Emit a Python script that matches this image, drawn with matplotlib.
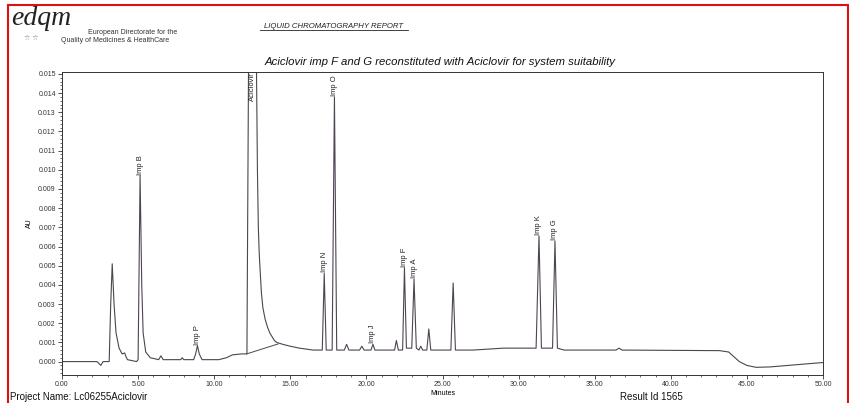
import matplotlib.pyplot as plt
from matplotlib.patches import Rectangle
from matplotlib.ticker import MultipleLocator, FormatStrFormatter

# trace vertices (minutes, AU)
minutes = [0.0, 2.3, 2.55, 2.7, 3.1, 3.2, 3.3, 3.42, 3.55, 3.75, 3.95, 4.12, 4.18, 4.3, 4.9,
           5.0, 5.13, 5.24, 5.33, 5.5, 5.8, 6.35, 6.5, 6.65, 7.8, 7.9, 8.0, 8.65, 8.78, 8.9, 9.02, 9.2,
           10.3, 10.8, 11.2, 11.8, 12.15, 12.5, 12.78, 12.84, 12.9, 12.95, 13.0, 13.1, 13.2, 13.35,
           13.5, 13.65, 13.8, 13.95, 14.1, 14.5, 15.0, 15.6, 16.5, 17.1, 17.23, 17.36, 17.75, 17.9,
           18.05, 18.55, 18.7, 18.85, 19.55, 19.7, 19.85, 20.3, 20.43, 20.56, 21.85, 21.97, 22.1,
           22.38, 22.5, 22.63, 22.98, 23.13, 23.28, 23.45, 23.57, 23.7, 23.97, 24.1, 24.23, 25.55,
           25.7, 25.85, 27.0, 29.0, 30.5, 31.15, 31.34, 31.5, 32.23, 32.39, 32.55, 33.0, 36.4, 36.6,
           36.8, 43.2, 43.8, 44.5, 45.0, 45.6, 46.5, 48.0, 50.0]
au = [0.0, 0.0, -0.0002, 0.0, 0.0, 0.003, 0.0051, 0.003, 0.0015, 0.0007, 0.0004, 0.00045, 0.0003,
      0.0001, 0.0, 0.0001, 0.0097, 0.004, 0.0015, 0.0005, 0.0002, 0.0001, 0.0003, 0.0001, 0.0001,
      0.0002, 0.0001, 0.0001, 0.0004, 0.00083, 0.0004, 0.0001, 0.0001, 0.0002, 0.00035, 0.0004,
      0.0004, 0.05, 0.0151, 0.01, 0.007, 0.0058, 0.005, 0.0036, 0.0028, 0.0022, 0.0018, 0.0015,
      0.0013, 0.0011, 0.001, 0.0009, 0.0008, 0.0007, 0.0006, 0.0006, 0.0046, 0.0006, 0.0006,
      0.0138, 0.0006, 0.0006, 0.0009, 0.0006, 0.0006, 0.0008, 0.0006, 0.0006, 0.0009, 0.0006,
      0.0006, 0.0011, 0.0006, 0.0006, 0.0049, 0.0007, 0.0007, 0.0043, 0.0007, 0.0006, 0.0008,
      0.0006, 0.0006, 0.0017, 0.0006, 0.0006, 0.0041, 0.0006, 0.0006, 0.0007, 0.0007, 0.0007,
      0.00655, 0.0007, 0.0007, 0.00629, 0.0007, 0.0006, 0.0006, 0.0007, 0.0006, 0.00057, 0.0005,
      0.0, -0.0002, -0.0003, -0.00028, -0.00018, -0.00005]

# integration baseline under the main peak
drop_t = [12.13, 14.2]
drop_au = [0.0004, 0.00092]

# peak names
peak_names = ['Imp B', 'Imp P', 'Aciclovir', 'Imp N', 'Imp O', 'Imp J', 'Imp F', 'Imp A', 'Imp K', 'Imp G']
peak_rt = [5.13, 8.9, 12.5, 17.23, 17.9, 20.43, 22.5, 23.13, 31.34, 32.39]

line_col = '#4e4452'
plt.rcParams['font.family'] = ['Liberation Sans', 'DejaVu Sans']

fig = plt.figure(figsize=(8.49, 4.03), dpi=100)
fig.patch.set_facecolor('white')

# red page border
fig.patches.append(Rectangle((8/849, -0.05), 840/849, 1.05 - 5/403, transform=fig.transFigure,
                             fill=False, edgecolor='#e01010', linewidth=1.5))

# header
fig.text(11/849, 1 - 25/403, 'edqm', fontsize=20, style='italic', family='Liberation Serif',
         va='baseline', ha='left', color='#222222')
fig.text(88/849, 1 - 32/403, 'European Directorate for the', fontsize=5, va='center', ha='left', color='#333333')
fig.text(61/849, 1 - 40/403, 'Quality of Medicines & HealthCare', fontsize=5, va='center', ha='left', color='#333333')
fig.text(24/849, 1 - 38/403, '\u2606 \u2606', fontsize=5, va='center', ha='left', color='#777777')
fig.text(334/849, 1 - 26/403, 'LIQUID CHROMATOGRAPHY REPORT', fontsize=5.6, style='italic',
         va='center', ha='center', color='#222222')
fig.add_artist(plt.Line2D([260/849, 408/849], [1 - 30/403, 1 - 30/403], color='#222222', lw=0.6))
fig.text(440/849, 1 - 62/403, 'Aciclovir imp F and G reconstituted with Aciclovir for system suitability',
         fontsize=8.2, style='italic', va='center', ha='center', color='#111111')

# footer
fig.text(10/849, 1/403, 'Project Name: Lc06255Aciclovir', fontsize=7, va='bottom', ha='left', color='#111111')
fig.text(620/849, 1/403, 'Result Id 1565', fontsize=7, va='bottom', ha='left', color='#111111')

ax = fig.add_axes([62/849, 28/403, 761/849, 303/403])
ax.plot(minutes, au, color=line_col, lw=0.8)
ax.plot(drop_t, drop_au, color=line_col, lw=0.7)
ax.set_xlim(0, 50)
ax.set_ylim(-0.0007, 0.0151)

for name, rt in zip(peak_names, peak_rt):
    h = au[minutes.index(rt)]
    if h > 0.0151:
        ax.text(rt, 0.0151, name, rotation=90, fontsize=5.5, ha='center', va='top', color='#222222',
                clip_on=True)
    else:
        ax.text(rt, h + 0.00005, name, rotation=90, fontsize=5.5, ha='center', va='bottom', color='#222222')

ax.xaxis.set_major_locator(MultipleLocator(5))
ax.xaxis.set_minor_locator(MultipleLocator(1))
ax.yaxis.set_major_locator(MultipleLocator(0.001))
ax.yaxis.set_minor_locator(MultipleLocator(0.0002))
ax.xaxis.set_major_formatter(FormatStrFormatter('%.2f'))
ax.yaxis.set_major_formatter(FormatStrFormatter('%.3f'))
ax.tick_params(which='major', length=3, width=0.6, labelsize=5, colors='#333333', pad=1.5)
ax.tick_params(which='minor', length=1.5, width=0.5, colors='#333333')
for sp in ax.spines.values():
    sp.set_linewidth(0.7)
    sp.set_color('#333333')
ax.set_xlabel('Minutes', fontsize=5, labelpad=1.5)
ax.set_ylabel('AU', fontsize=5, labelpad=4)

fig.savefig('out.png', dpi=100)
